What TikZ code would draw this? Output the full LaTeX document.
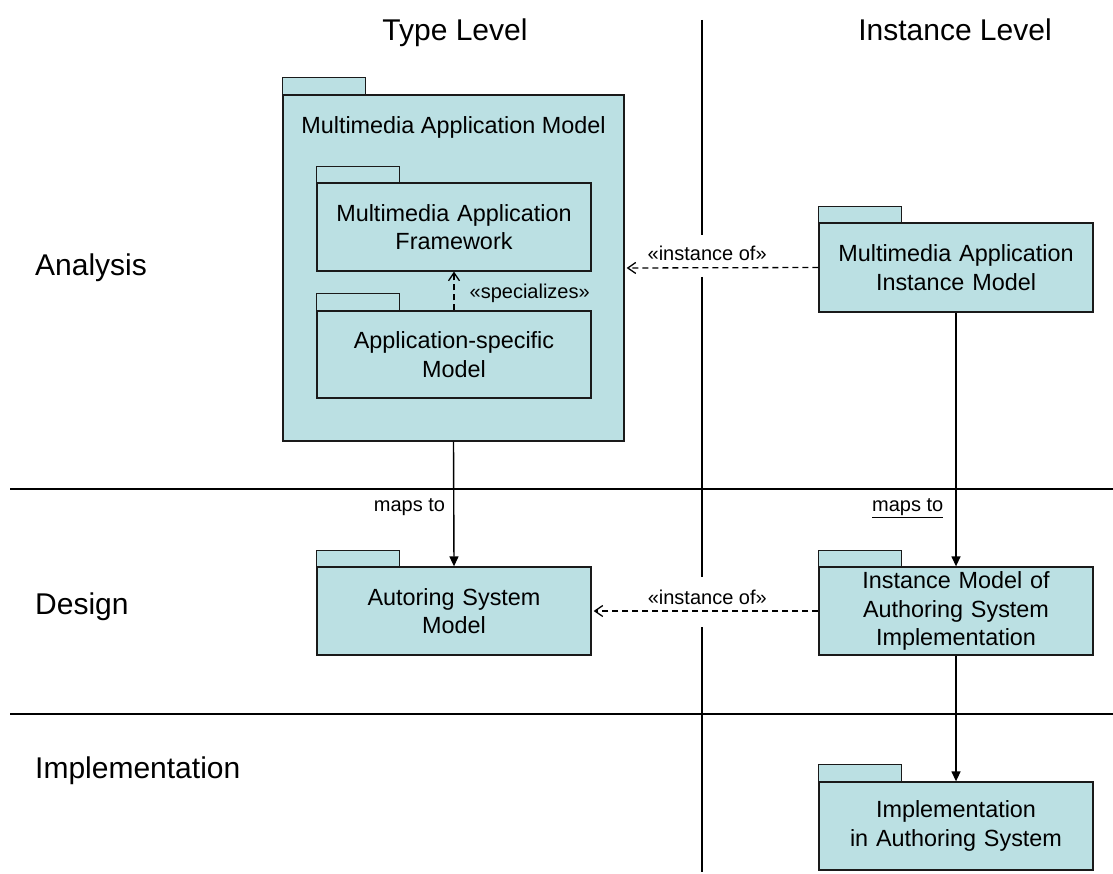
\documentclass[tikz,border=0pt]{standalone}
\usepackage{fontspec}
\setmainfont{Liberation Sans}
\usetikzlibrary{arrows.meta}
\definecolor{pkgfill}{HTML}{BBE0E3}
\definecolor{pkgline}{HTML}{1A1A1A}
\newcommand{\DiagHeadFont}{\fontsize{30}{36}\selectfont}
\newcommand{\DiagBoxFont}{\fontsize{23.4}{28.5}\selectfont}
\newcommand{\DiagSmallFont}{\fontsize{20}{24}\selectfont}

\begin{document}
\begin{tikzpicture}[x=1pt,y=-1pt,
  pkg/.style={draw=pkgline, fill=pkgfill, line width=1.3pt, align=center,
    font=\DiagBoxFont, inner sep=0pt, text width=260pt},
  pkgtab/.style={draw=pkgline, fill=pkgfill, line width=1.3pt},
  heading/.style={font=\DiagHeadFont, inner sep=0pt},
  small/.style={font=\DiagSmallFont, inner sep=0pt},
  divider/.style={line width=1.2pt, black},
  mapsto/.style={line width=1.4pt, black, -{Triangle[width=9pt,length=10pt]}},
  instof/.style={line width=1.3pt, black, dash pattern=on 6pt off 4pt,
    -{Straight Barb[width=11pt,length=8pt]}},
]
\useasboundingbox (0,0) rectangle (1113,874);

% swim-lane grid
\draw[divider] (10,489) -- (1113,489);
\draw[line width=2.4pt] (10,714) -- (1113,714);
\draw[divider] (702,20) -- (702,235) (702,277) -- (702,577) (702,627) -- (702,872);

% column and row headings
\node[heading, anchor=base] (type) at (455,41) {Type Level};
\node[heading, anchor=base] (inst) at (955,41) {Instance Level};
\node[heading, anchor=base west] (analysis) at (35,276) {Analysis};
\node[heading, anchor=base west] (design) at (35,614) {Design};
\node[heading, anchor=base west] (implrow) at (35,778) {Implementation};

% type level packages
\node[pkg, minimum width=341pt, minimum height=346pt] (mam) at (453.5,268) {};
\draw[pkgtab] (mam.north west) rectangle ++(83,-17);
\node[font=\DiagBoxFont, inner sep=0pt, anchor=base] (mamtitle) at (453.5,133.3) {Multimedia Application Model};

\node[pkg, minimum width=274pt, minimum height=88pt] (maf) at (454,227) {Multimedia Application\\Framework};
\draw[pkgtab] (maf.north west) rectangle ++(83,-16);

\node[pkg, minimum width=274pt, minimum height=87pt] (asm) at (454,354.5) {Application-specific\\Model};
\draw[pkgtab] (asm.north west) rectangle ++(83,-17);

\node[pkg, minimum width=274pt, minimum height=88pt] (asy) at (454,611) {Autoring System\\Model};
\draw[pkgtab] (asy.north west) rectangle ++(83,-16);

% instance level packages
\node[pkg, minimum width=274pt, minimum height=89pt] (mim) at (956,267.5) {Multimedia Application\\Instance Model};
\draw[pkgtab] (mim.north west) rectangle ++(83,-16);

\node[pkg, minimum width=274pt, minimum height=88pt] (imas) at (956,611) {Instance Model of\\Authoring System\\Implementation};
\draw[pkgtab] (imas.north west) rectangle ++(83,-16);

\node[pkg, minimum width=274pt, minimum height=88pt] (impl) at (956,826) {Implementation\\in Authoring System};
\draw[pkgtab] (impl.north west) rectangle ++(83,-17);

% relations
\draw[instof] (asm.north) -- (maf.south)
  node[small, pos=0.3, anchor=base west, xshift=15pt] (spec) {«specializes»};
\draw[instof, shorten >=2pt] (mim.west) -- (mam.east)
  node[small, pos=0.574, above=6pt] (io1) {«instance of»};
\draw[instof, shorten >=2pt] (imas.west) -- (asy.east)
  node[small, pos=0.49, above=6pt] (io2) {«instance of»};
\draw[mapsto] (mam.south) -- (asy.north)
  node[small, pos=0.563, anchor=base east, xshift=-8pt] (mt1) {maps to};
\draw[mapsto] (mim.south) -- (imas.north)
  node[small, pos=0.784, anchor=base east, xshift=-12pt] (mt2) {\underline{maps to}};
\draw[mapsto] (imas.south) -- (impl.north);
\end{tikzpicture}
\end{document}
